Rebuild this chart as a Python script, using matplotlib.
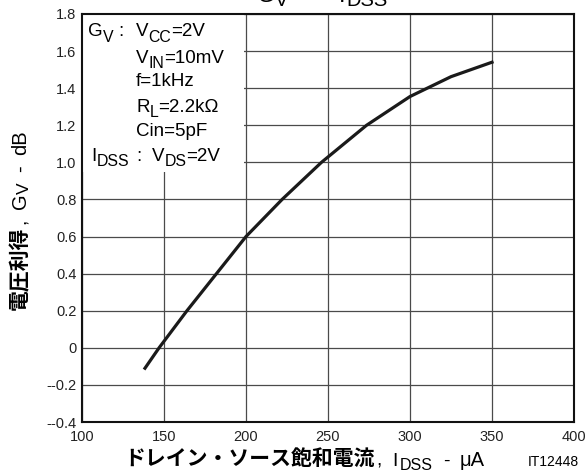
import matplotlib
matplotlib.use("Agg")
import matplotlib.pyplot as plt
from matplotlib.patches import Rectangle

plt.rcParams["font.family"] = ["Liberation Sans", "Noto Sans CJK JP"]

# データ
idss = [138.4, 147, 164, 182, 200, 222, 246, 273.5, 300, 325, 350]
gv = [-0.11, 0.0, 0.2, 0.4, 0.6, 0.8, 1.0, 1.2, 1.355, 1.462, 1.54]

x_ticks = [100, 150, 200, 250, 300, 350, 400]
y_ticks = [-0.4, -0.2, 0, 0.2, 0.4, 0.6, 0.8, 1.0, 1.2, 1.4, 1.6, 1.8]
y_tick_labels = ["--0.4", "--0.2", "0", "0.2", "0.4", "0.6", "0.8",
                 "1.0", "1.2", "1.4", "1.6", "1.8"]

W, H = 586, 472
fig = plt.figure(figsize=(W / 100, H / 100), dpi=100)
ax = fig.add_axes([82 / W, 1 - 422 / H, 492 / W, 408 / H])

ax.plot(idss, gv, color="#1a1a1a", lw=2.3, zorder=3)

ax.set_xlim(100, 400)
ax.set_ylim(-0.4, 1.8)
ax.set_xticks(x_ticks)
ax.set_yticks(y_ticks)
ax.set_yticklabels(y_tick_labels)
ax.tick_params(length=0, labelsize=10.5, colors="#222222")
ax.tick_params(axis="y", pad=4)
ax.tick_params(axis="x", pad=6)
ax.grid(True, color="#4a4a4a", lw=0.9)
ax.set_axisbelow(True)
for s in ax.spines.values():
    s.set_linewidth(1.5)
    s.set_color("#111111")

# 条件の枠 (白背景)
ax.add_patch(Rectangle((100, 0.95), 98.5, 0.85, facecolor="white",
                       edgecolor="none", zorder=1))

fig.canvas.draw()
r = fig.canvas.get_renderer()


def rich(x, y, parts, rot=0):
    # x, y: ピクセル (左上原点), parts: (文字, サイズ, 下げ量px, 太さ, 前の間隔px)
    for txt, size, drop, weight, gap in parts:
        if rot == 0:
            x += gap
            t = fig.text(x / W, 1 - (y + drop) / H, txt, fontsize=size,
                         fontweight=weight, ha="left", va="baseline")
            x = t.get_window_extent(r).x1
        else:
            y -= gap
            t = fig.text((x + drop) / W, 1 - y / H, txt, fontsize=size,
                         fontweight=weight, rotation=90,
                         rotation_mode="anchor", ha="left", va="baseline")
            y = H - t.get_window_extent(r).y1
    return x, y


fs = 13.5
sub = fs * 0.85
rich(88, 36.5, [("G", fs, 0, "normal", 0), ("V", sub, 5, "normal", 0),
                (":", fs, 0, "normal", 5)])
rich(136, 36.5, [("V", fs, 0, "normal", 0), ("CC", sub, 5, "normal", 0),
                 ("=2V", fs, 0, "normal", 0)])
rich(136, 63, [("V", fs, 0, "normal", 0), ("IN", sub, 5, "normal", 0),
               ("=10mV", fs, 0, "normal", 0)])
rich(136, 86.5, [("f=1kHz", fs, 0, "normal", 0)])
rich(136, 111.5, [("R", fs, 0, "normal", 0), ("L", sub, 5, "normal", 0),
                  ("=2.2kΩ", fs, 0, "normal", 0)])
rich(136, 136.5, [("Cin=5pF", fs, 0, "normal", 0)])
rich(91, 161, [("I", fs, 0, "normal", 0), ("DSS", sub, 5, "normal", 1),
               (":", fs, 0, "normal", 6)])
rich(152, 161, [("V", fs, 0, "normal", 0), ("DS", sub, 5, "normal", 0),
                ("=2V", fs, 0, "normal", 0)])

# タイトル (上端で切れている)
rich(257, 2, [("G", 17, 0, "normal", 0), ("V", 14.5, 4, "normal", 0),
              ("--", 17, 0, "normal", 14)])
rich(339, 2, [("I", 17, 0, "normal", 0), ("DSS", 14.5, 4, "normal", 1)])

# x軸ラベル
rich(124, 466, [("ドレイン・ソース飽和電流", 15, 0, "bold", 0),
                (",", 14, 0, "normal", 2),
                ("I", 14, 0, "normal", 10),
                ("DSS", 11.5, 4, "normal", 3),
                ("-", 14, 0, "normal", 10),
                ("μA", 14.5, 0, "normal", 10)])
rich(528, 466, [("IT12448", 10, 0, "normal", 0)])

# y軸ラベル
rich(26, 310, [("電圧利得", 15, 0, "bold", 0),
               (",", 14, 0, "normal", 2),
               ("G", 14.5, 0, "normal", 10),
               ("V", 12.5, 3, "normal", 0),
               ("-", 14.5, 0, "normal", 10),
               ("dB", 14.5, 0, "normal", 10)], rot=90)

fig.savefig("out.png", dpi=100)
